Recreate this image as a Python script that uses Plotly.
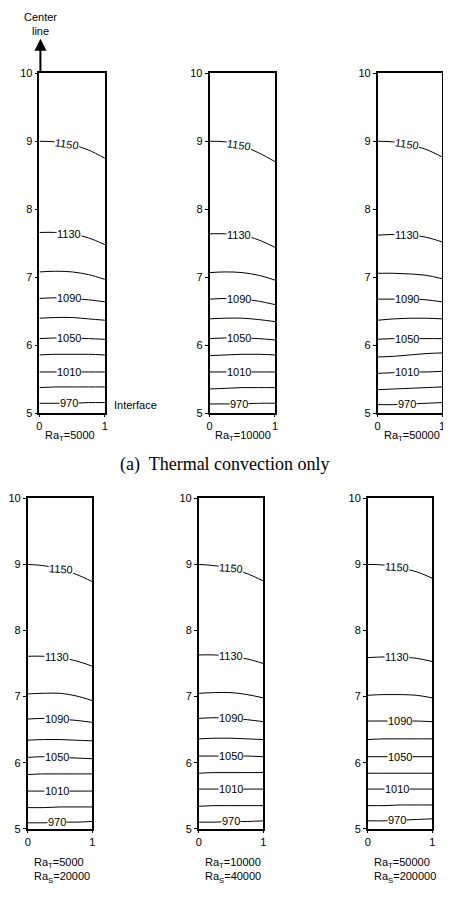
import plotly.graph_objects as go
import numpy as np

# ---------------- data ----------------
XS = [0.0, 0.25, 0.5, 0.75, 1.0]
LEVELS = [1150, 1130, 1110, 1090, 1070, 1050, 1030, 1010, 990, 970]
LABELED = [1150, 1130, 1090, 1050, 1010, 970]
Y_TICKS = [5, 6, 7, 8, 9, 10]
X_TICKS = [0, 1]

# contour heights (y) at XS for each level, per panel
top1 = {1150: [9.00, 8.99, 8.95, 8.87, 8.75], 1130: [7.66, 7.66, 7.64, 7.58, 7.48],
        1110: [7.08, 7.09, 7.08, 7.04, 6.97], 1090: [6.69, 6.70, 6.69, 6.67, 6.64],
        1070: [6.40, 6.41, 6.41, 6.39, 6.37], 1050: [6.10, 6.11, 6.11, 6.10, 6.09],
        1030: [5.86, 5.87, 5.87, 5.87, 5.86], 1010: [5.61, 5.61, 5.61, 5.61, 5.61],
        990: [5.38, 5.39, 5.39, 5.39, 5.39], 970: [5.15, 5.15, 5.15, 5.16, 5.16]}
top2 = {1150: [9.00, 8.99, 8.93, 8.83, 8.70], 1130: [7.64, 7.64, 7.62, 7.55, 7.44],
        1110: [7.07, 7.08, 7.07, 7.03, 6.96], 1090: [6.68, 6.69, 6.68, 6.65, 6.60],
        1070: [6.39, 6.40, 6.40, 6.38, 6.35], 1050: [6.10, 6.11, 6.11, 6.10, 6.08],
        1030: [5.85, 5.86, 5.87, 5.87, 5.86], 1010: [5.61, 5.61, 5.61, 5.61, 5.61],
        990: [5.36, 5.37, 5.38, 5.38, 5.38], 970: [5.14, 5.14, 5.14, 5.15, 5.15]}
top3 = {1150: [9.00, 8.99, 8.95, 8.88, 8.77], 1130: [7.62, 7.63, 7.62, 7.59, 7.52],
        1110: [7.06, 7.06, 7.05, 7.03, 6.98], 1090: [6.68, 6.68, 6.68, 6.67, 6.64],
        1070: [6.37, 6.39, 6.40, 6.40, 6.39], 1050: [6.09, 6.10, 6.10, 6.10, 6.10],
        1030: [5.83, 5.84, 5.86, 5.88, 5.89], 1010: [5.59, 5.60, 5.61, 5.61, 5.62],
        990: [5.35, 5.36, 5.37, 5.38, 5.39], 970: [5.13, 5.13, 5.14, 5.15, 5.16]}
bot1 = {1150: [9.00, 8.98, 8.93, 8.85, 8.74], 1130: [7.61, 7.61, 7.59, 7.54, 7.46],
        1110: [7.04, 7.05, 7.05, 7.01, 6.94], 1090: [6.66, 6.67, 6.66, 6.64, 6.61],
        1070: [6.34, 6.35, 6.35, 6.34, 6.33], 1050: [6.08, 6.09, 6.08, 6.07, 6.06],
        1030: [5.82, 5.83, 5.83, 5.83, 5.83], 1010: [5.57, 5.57, 5.57, 5.57, 5.57],
        990: [5.32, 5.32, 5.33, 5.33, 5.33], 970: [5.09, 5.09, 5.10, 5.10, 5.11]}
bot2 = {1150: [9.00, 8.98, 8.94, 8.86, 8.75], 1130: [7.63, 7.63, 7.61, 7.57, 7.50],
        1110: [7.05, 7.06, 7.06, 7.03, 6.98], 1090: [6.67, 6.68, 6.67, 6.65, 6.62],
        1070: [6.36, 6.37, 6.37, 6.36, 6.35], 1050: [6.10, 6.10, 6.10, 6.10, 6.09],
        1030: [5.84, 5.85, 5.85, 5.85, 5.85], 1010: [5.60, 5.60, 5.60, 5.60, 5.60],
        990: [5.34, 5.35, 5.35, 5.35, 5.35], 970: [5.10, 5.10, 5.11, 5.11, 5.12]}
bot3 = {1150: [9.00, 8.99, 8.95, 8.89, 8.79], 1130: [7.59, 7.60, 7.60, 7.58, 7.53],
        1110: [7.02, 7.03, 7.03, 7.02, 6.98], 1090: [6.63, 6.63, 6.63, 6.63, 6.62],
        1070: [6.35, 6.36, 6.36, 6.36, 6.36], 1050: [6.09, 6.09, 6.09, 6.09, 6.09],
        1030: [5.84, 5.84, 5.84, 5.84, 5.84], 1010: [5.60, 5.60, 5.60, 5.60, 5.60],
        990: [5.35, 5.35, 5.36, 5.36, 5.36], 970: [5.12, 5.12, 5.13, 5.14, 5.15]}

PANELS = [top1, top2, top3, bot1, bot2, bot3]
CAPTIONS = ["Ra<sub>T</sub>=5000", "Ra<sub>T</sub>=10000", "Ra<sub>T</sub>=50000",
            "Ra<sub>T</sub>=5000<br>Ra<sub>S</sub>=20000",
            "Ra<sub>T</sub>=10000<br>Ra<sub>S</sub>=40000",
            "Ra<sub>T</sub>=50000<br>Ra<sub>S</sub>=200000"]
LABEL_X = [[0.42, 0.45, 0.45, 0.45, 0.45, 0.45],
           [0.45, 0.45, 0.45, 0.45, 0.45, 0.45],
           [0.45, 0.45, 0.45, 0.45, 0.45, 0.45],
           [0.52, 0.45, 0.45, 0.45, 0.45, 0.45],
           [0.50, 0.50, 0.50, 0.50, 0.50, 0.50],
           [0.45, 0.45, 0.50, 0.50, 0.45, 0.45]]

# ---------------- layout geometry (reference pixels) ----------------
PAGE_W, PAGE_H = 451, 897
OFF = 8  # default page margin of the html body
W, H = PAGE_W - OFF, PAGE_H - 2 * OFF
# (left, right, top, bottom) in page pixels
BOXES = [(33, 100, 68, 413), (207, 274, 68, 413), (379, 445, 68, 413),
         (21, 87, 499, 834), (196, 262, 499, 834), (369, 435, 499, 834)]


def px(x):
    return (x - OFF) / W


def py(y):
    return 1 - (y - OFF) / H


fig = go.Figure()
FONT = "Liberation Sans, Arial, sans-serif"


def interp(xs, ys, x):
    return float(np.interp(x, xs, ys))


annotations = []
for i, (panel, box) in enumerate(zip(PANELS, BOXES)):
    n = i + 1
    xa = "x" if n == 1 else f"x{n}"
    ya = "y" if n == 1 else f"y{n}"
    for lev in LEVELS:
        fig.add_trace(go.Scatter(x=XS, y=panel[lev], mode="lines", xaxis=xa, yaxis=ya,
                                 line=dict(color="black", width=1, shape="spline"),
                                 showlegend=False, hoverinfo="skip"))
    for j, lev in enumerate(LABELED):
        lx = LABEL_X[i][j]
        ly = interp(XS, panel[lev], lx)
        annotations.append(dict(x=lx, y=ly, xref=xa, yref=ya, text=str(lev),
                                showarrow=False, bgcolor="white", borderpad=0,
                                xanchor="center", yanchor="middle",
                                textangle=(8 if i < 3 else 4) if lev == 1150 else 0,
                                font=dict(family=FONT, size=11, color="black")))
    l, r, t, b = box
    dx = [px(l), px(r)]
    dy = [py(b), py(t)]
    axis_common = dict(showgrid=False, zeroline=False, showline=True, linecolor="black",
                       linewidth=1.6, mirror=True, ticks="outside", ticklen=3,
                       tickwidth=1, tickcolor="black",
                       tickfont=dict(family=FONT, size=11, color="black"))
    xkey = "xaxis" if n == 1 else f"xaxis{n}"
    ykey = "yaxis" if n == 1 else f"yaxis{n}"
    fig.update_layout(**{
        xkey: dict(domain=dx, range=[0, 1], tickvals=X_TICKS, anchor=ya, ticklen=2,
                   **{k: v for k, v in axis_common.items() if k != "ticklen"}),
        ykey: dict(domain=dy, range=[5, 10], tickvals=Y_TICKS, anchor=xa, **axis_common),
    })
    # caption under panel
    cy = 436 if i < 3 else 876
    annotations.append(dict(x=px(l + 4), y=py(cy), xref="paper", yref="paper",
                            text=CAPTIONS[i], showarrow=False, xanchor="left",
                            yanchor="middle", align="left",
                            font=dict(family=FONT, size=11, color="black")))

# Center line arrow and text
annotations.append(dict(x=px(34), y=py(33), xref="paper", yref="paper", text="",
                        showarrow=True, ax=0, ay=35, arrowhead=2, arrowsize=1.2,
                        arrowwidth=2, arrowcolor="black"))
annotations.append(dict(x=px(34), y=py(18), xref="paper", yref="paper",
                        text="Center<br>line", showarrow=False,
                        xanchor="center", yanchor="middle",
                        font=dict(family=FONT, size=11, color="black")))
annotations.append(dict(x=px(107), y=py(404), xref="paper", yref="paper",
                        text="Interface", showarrow=False, xanchor="left",
                        yanchor="middle",
                        font=dict(family=FONT, size=11, color="black")))
annotations.append(dict(x=px(223), y=py(465), xref="paper", yref="paper",
                        text="(a)  Thermal convection only", showarrow=False,
                        xanchor="center", yanchor="middle",
                        font=dict(family="Liberation Serif, Times New Roman, serif",
                                  size=18, color="black")))

fig.update_layout(width=W, height=H, margin=dict(l=0, r=0, t=0, b=0), autosize=False,
                  paper_bgcolor="white", plot_bgcolor="white", showlegend=False,
                  annotations=annotations)

fig.write_html("out.html")
